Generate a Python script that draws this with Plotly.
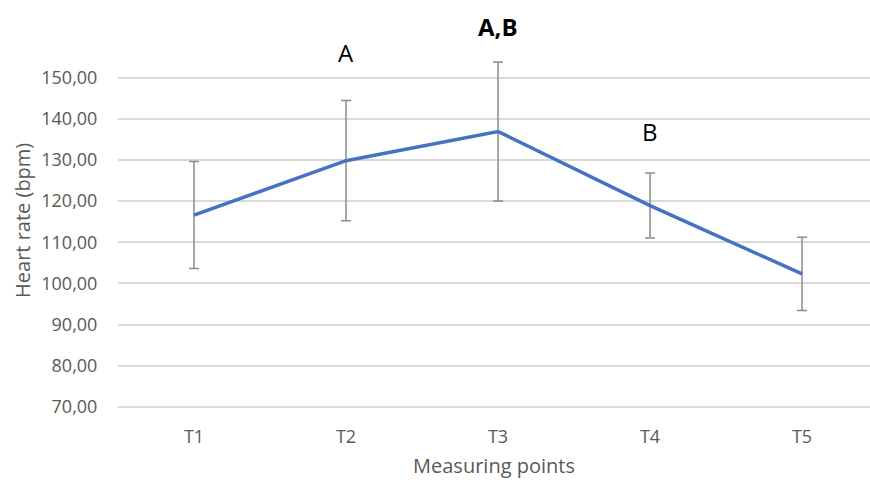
import plotly.graph_objects as go

# Mean heart rate at each measuring point with standard deviation
points = ["T1", "T2", "T3", "T4", "T5"]
heart_rate = [116.6, 129.8, 136.9, 118.9, 102.3]
heart_rate_sd = [13.0, 14.6, 16.9, 7.9, 8.9]

# Significance letters shown above points
sig_points = ["T2", "T3", "T4"]
sig_labels = ["A", "A,B", "B"]
sig_y = [156.1, 162.3, 137.0]
sig_bold = [False, True, False]

y_ticks = [70, 80, 90, 100, 110, 120, 130, 140, 150]
y_tick_text = [f"{v:.2f}".replace(".", ",") for v in y_ticks]

FONT = "Open Sans"
GREY = "#595959"

fig = go.Figure()
fig.add_trace(go.Scatter(
    x=list(range(len(points))),
    y=heart_rate,
    mode="lines",
    line=dict(color="#4472C4", width=3.5),
    error_y=dict(type="data", array=heart_rate_sd, visible=True,
                 color="#8c8c8c", thickness=1.5, width=5),
    showlegend=False,
))

for label, yv, name, bold in zip(sig_labels, sig_y, sig_points, sig_bold):
    fig.add_annotation(
        x=points.index(name), y=yv, xref="x", yref="y",
        text=f"<b>{label}</b>" if bold else label,
        showarrow=False,
        font=dict(family=FONT, size=24, color="#000000"),
    )

# Vertical axis title, placed as a rotated label left of the tick labels
fig.add_annotation(
    x=-0.127, y=0.461, xref="paper", yref="paper",
    text="Heart rate (bpm)", textangle=-90, showarrow=False,
    xanchor="center", yanchor="middle",
    font=dict(family=FONT, size=20, color=GREY),
)

fig.update_layout(
    width=870, height=482,
    margin=dict(l=118, r=0, t=0, b=73),
    paper_bgcolor="white", plot_bgcolor="white",
    font=dict(family=FONT, size=16, color=GREY),
    xaxis=dict(
        range=[-0.5, 4.447],
        tickvals=list(range(len(points))),
        ticktext=points,
        showgrid=False, zeroline=False, showline=False,
        ticks="outside", ticklen=11, tickcolor="rgba(0,0,0,0)",
        tickfont=dict(family=FONT, size=18, color=GREY),
        title=dict(text="Measuring points", standoff=12,
                   font=dict(family=FONT, size=20, color=GREY)),
        automargin=False,
    ),
    yaxis=dict(
        range=[69.5, 168.83],
        tickvals=y_ticks,
        ticktext=y_tick_text,
        showgrid=True, gridcolor="#d9d9d9", gridwidth=1.5,
        zeroline=False, showline=False,
        ticks="outside", ticklen=16, tickcolor="rgba(0,0,0,0)",
        tickfont=dict(family=FONT, size=18, color=GREY),
        automargin=False,
    ),
)

fig.write_html("out.html")
